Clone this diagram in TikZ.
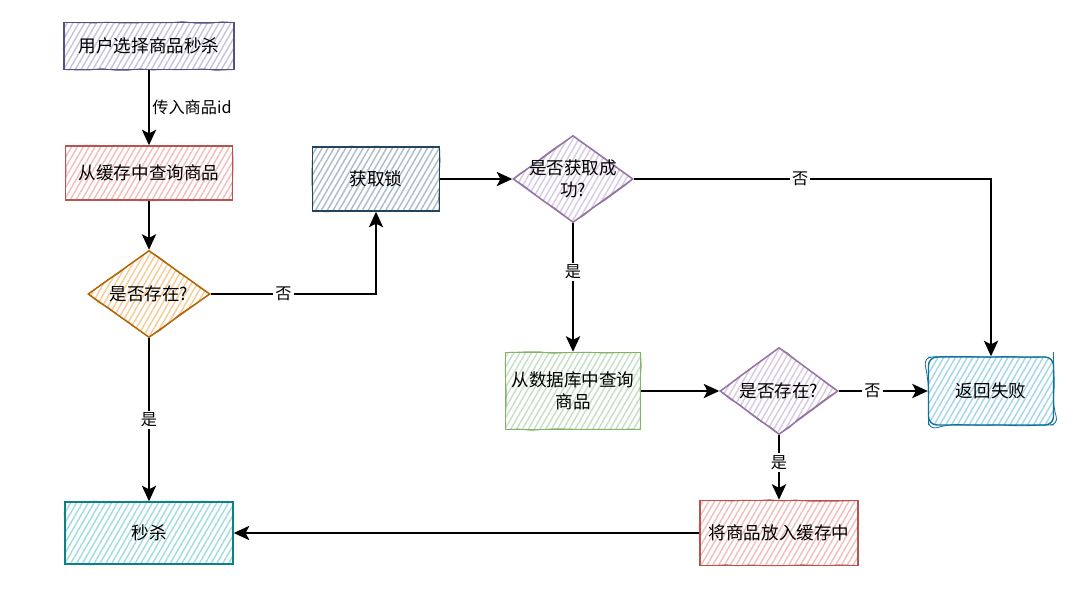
\documentclass[tikz,border=0pt]{standalone}
\usepackage{fontspec}
\setmainfont{Noto Sans CJK SC}
\usetikzlibrary{positioning}
\usetikzlibrary{arrows.meta}
\usetikzlibrary{shapes.geometric}
\usetikzlibrary{patterns.meta}
\usetikzlibrary{decorations.pathmorphing}

\definecolor{navyline}{HTML}{56517E}\definecolor{navyfill}{HTML}{C6C3DC}
\definecolor{redline}{HTML}{B85450}\definecolor{redfill}{HTML}{F4BDBA}
\definecolor{orangeline}{HTML}{B46504}\definecolor{orangefill}{HTML}{F8CB96}
\definecolor{tealline}{HTML}{0E8088}\definecolor{tealfill}{HTML}{A0DCE0}
\definecolor{slateline}{HTML}{23445D}\definecolor{slatefill}{HTML}{ABBCC9}
\definecolor{purpleline}{HTML}{9673A6}\definecolor{purplefill}{HTML}{D9C9E1}
\definecolor{greenline}{HTML}{82B366}\definecolor{greenfill}{HTML}{C6E0C4}
\definecolor{blueline}{HTML}{10739E}\definecolor{bluefill}{HTML}{A3D5EC}

\tikzset{
  sketch/.style 2 args={draw=#1, line width=1pt, pattern color=#2,
    pattern={Lines[angle=60,distance=3.6pt,line width=1pt]},
    postaction={draw=#1, line width=0.6pt, decorate,
      decoration={random steps, segment length=9pt, amplitude=0.6pt}},
    align=center, inner sep=2pt, font=\fontsize{12.5}{15.5}\selectfont},
  sz/.style 2 args={minimum width=#1*0.025cm, minimum height=#2*0.025cm},
  cond/.style 2 args={diamond, inner sep=0pt, aspect=1.4,
    label={[align=center, font=\fontsize{12.5}{15.5}\selectfont]center:#2}, sz={#1}{87}},
  arr/.style={draw=black, line width=1.8pt, -{Stealth[length=11pt,width=10pt,inset=2.5pt]}},
  lbl/.style={fill=white, inner sep=1.5pt, font=\fontsize{11.5}{14}\selectfont}
}

\begin{document}
\begin{tikzpicture}[x=0.025cm, y=-0.025cm]
  \useasboundingbox (0,0) rectangle (1080,605);
  \fill[white] (0,0) rectangle (1080,605);

  % left column
  \node[sketch={navyline}{navyfill}, sz={170}{47}] (choose) at (149,46) {用户选择商品秒杀};
  \node[sketch={redline}{redfill}, sz={167}{54}] (cache) at (149,173) {从缓存中查询商品};
  \node[sketch={orangeline}{orangefill}, cond={122}{是否存在?}] (incache) at (149,294) {};
  \node[sketch={tealline}{tealfill}, sz={168}{62}] (seckill) at (149,533) {秒杀};

  % lock and database branch
  \node[sketch={slateline}{slatefill}, sz={127}{64}] (lock) at (376,179) {获取锁};
  \node[sketch={purpleline}{purplefill}, cond={120}{是否获取成\\功?}] (locked) at (573,179) {};
  \node[sketch={greenline}{greenfill}, sz={135}{77}] (db) at (573,391) {从数据库中查询\\商品};
  \node[sketch={purpleline}{purplefill}, cond={118}{是否存在?}] (indb) at (779,391) {};
  \node[sketch={blueline}{bluefill}, rounded corners=6pt, sz={125}{68}] (fail) at (991,391) {返回失败};
  \node[sketch={redline}{redfill}, sz={158}{65}] (store) at (779,533) {将商品放入缓存中};

  % connectors
  \draw[arr] (choose) -- node[lbl, right, fill=none]{传入商品id} (cache);
  \draw[arr] (cache) -- (incache);
  \draw[arr] (incache) -- node[lbl]{是} (seckill);
  \draw[arr] (incache.east) -| node[lbl, pos=0.22]{否} (lock.south);
  \draw[arr] (lock) -- (locked);
  \draw[arr] (locked.east) -| node[lbl, pos=0.233]{否} (fail.north);
  \draw[arr] (locked) -- node[lbl, pos=0.38]{是} (db);
  \draw[arr] (db) -- (indb);
  \draw[arr] (indb) -- node[lbl, pos=0.38]{否} (fail);
  \draw[arr] (indb) -- node[lbl, pos=0.42]{是} (store);
  \draw[arr] (store) -- (seckill);
\end{tikzpicture}
\end{document}
